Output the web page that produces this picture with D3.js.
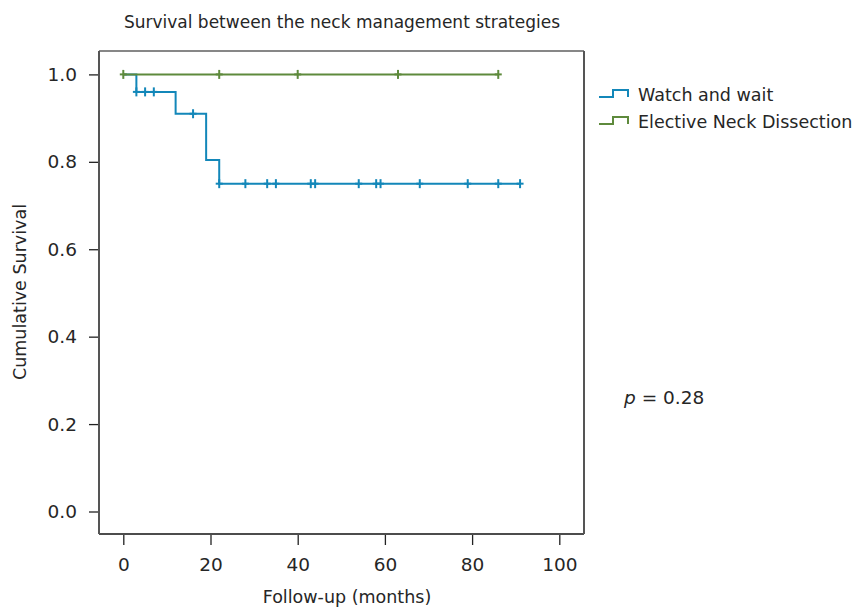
<!DOCTYPE html>
<html>
<head>
<meta charset="utf-8">
<script src="https://cdn.jsdelivr.net/npm/d3@7"></script>
<style>
  body { margin: 0; background: #fff; }
  svg text { font-family: "DejaVu Sans", sans-serif; fill: #262626; }
</style>
</head>
<body>
<svg id="viz" width="853" height="608"></svg>
<script>
// Series values
const xTicks = [0, 20, 40, 60, 80, 100];
const yTicks = [0, 0.2, 0.4, 0.6, 0.8, 1.0];

// Watch and wait: drop times and survival after each drop
const wwDropTimes = [3, 12, 19, 22];
const wwDropSurv = [0.96, 0.91, 0.804, 0.75];
const wwCensored = [3, 5, 7, 16, 22, 28, 33, 35, 43, 44, 54, 58, 59, 68, 79, 86, 91];
const wwLastTime = 91;

// Elective neck dissection: no events
const endDropTimes = [];
const endDropSurv = [];
const endCensored = [0, 22, 40, 63, 86];
const endLastTime = 86;

const seriesNames = ["Watch and wait", "Elective Neck Dissection"];
const seriesColors = ["#1387b9", "#5e8a3c"];

(function () {
  "use strict";

  /*
  |--------------------------------------------------------------------------
  | Layout settings
  |--------------------------------------------------------------------------
  */

  let frame = { left: 99, right: 584, top: 51, bottom: 534 };

  let svg = d3.select("#viz");

  /*
  |--------------------------------------------------------------------------
  | Scales
  |--------------------------------------------------------------------------
  */

  let x = d3.scaleLinear().domain([0, 100]).range([123.3, 559.3]);
  let y = d3.scaleLinear().domain([0, 1]).range([511.5, 74.4]);

  // builds the step points of one KM curve
  function stepPoints(times, surv, last) {
    let pts = [[0, 1]];
    let s = 1;
    times.forEach((t, i) => {
      pts.push([t, s]);
      s = surv[i];
      pts.push([t, s]);
    });
    pts.push([last, s]);
    return pts;
  }

  function survAt(times, surv, t) {
    let s = 1;
    times.forEach((d, i) => { if (d <= t) s = surv[i]; });
    return s;
  }

  let series = [
    { name: seriesNames[0], color: seriesColors[0], times: wwDropTimes, surv: wwDropSurv, cens: wwCensored, last: wwLastTime },
    { name: seriesNames[1], color: seriesColors[1], times: endDropTimes, surv: endDropSurv, cens: endCensored, last: endLastTime }
  ];

  /*
  |--------------------------------------------------------------------------
  | Frame and axes
  |--------------------------------------------------------------------------
  */

  let xAxis = svg.append("g")
    .attr("transform", `translate(0,${frame.bottom + 1})`)
    .call(d3.axisBottom(x).tickValues(xTicks).tickSize(10).tickPadding(13).tickFormat(d3.format("d")));

  let yAxis = svg.append("g")
    .attr("transform", `translate(${frame.left},0)`)
    .call(d3.axisLeft(y).tickValues(yTicks).tickSize(10).tickPadding(12).tickFormat(d3.format(".1f")));

  [xAxis, yAxis].forEach(a => {
    a.attr("font-family", null);
    a.select(".domain").remove();
    a.selectAll(".tick line").attr("stroke", "#222").attr("stroke-width", 1.3);
    a.selectAll(".tick text").style("font-size", "18.5px").attr("fill", "#262626");
  });

  svg.append("line").attr("x1", frame.left).attr("x2", frame.right).attr("y1", frame.top).attr("y2", frame.top)
    .attr("stroke", "#111").attr("stroke-width", 1.2);
  svg.append("line").attr("x1", frame.left).attr("x2", frame.right).attr("y1", frame.bottom).attr("y2", frame.bottom)
    .attr("stroke", "#111").attr("stroke-width", 1.5);
  svg.append("line").attr("x1", frame.left).attr("x2", frame.left).attr("y1", frame.top).attr("y2", frame.bottom)
    .attr("stroke", "#555").attr("stroke-width", 2);
  svg.append("line").attr("x1", frame.right).attr("x2", frame.right).attr("y1", frame.top).attr("y2", frame.bottom)
    .attr("stroke", "#555").attr("stroke-width", 2);

  /*
  |--------------------------------------------------------------------------
  | Curves and censor marks
  |--------------------------------------------------------------------------
  */

  let line = d3.line().x(d => x(d[0])).y(d => y(d[1]));

  series.forEach(s => {
    svg.append("path")
      .attr("d", line(stepPoints(s.times, s.surv, s.last)))
      .attr("fill", "none")
      .attr("stroke", s.color)
      .attr("stroke-width", 2);

    let marks = svg.append("g").selectAll("g")
      .data(s.cens)
      .enter()
      .append("g")
      .attr("transform", d => `translate(${x(d)},${y(survAt(s.times, s.surv, d))})`);

    marks.append("line").attr("x1", 0).attr("x2", 0).attr("y1", -4.5).attr("y2", 4.5)
      .attr("stroke", s.color).attr("stroke-width", 2);
    marks.append("line").attr("x1", -3.5).attr("x2", 3.5).attr("y1", 0).attr("y2", 0)
      .attr("stroke", s.color).attr("stroke-width", 2);
  });

  /*
  |--------------------------------------------------------------------------
  | Texts
  |--------------------------------------------------------------------------
  */

  svg.append("text")
    .attr("x", 342).attr("y", 28)
    .attr("text-anchor", "middle")
    .style("font-size", "17px")
    .text("Survival between the neck management strategies");

  svg.append("text")
    .attr("x", 347).attr("y", 603)
    .attr("text-anchor", "middle")
    .style("font-size", "17.5px")
    .text("Follow-up (months)");

  svg.append("text")
    .attr("transform", "translate(26,292) rotate(-90)")
    .attr("text-anchor", "middle")
    .style("font-size", "17.5px")
    .text("Cumulative Survival");

  let pText = svg.append("text")
    .attr("x", 624).attr("y", 404)
    .style("font-size", "18.5px");
  pText.append("tspan").style("font-style", "italic").text("p");
  pText.append("tspan").text(" = 0.28");

  /*
  |--------------------------------------------------------------------------
  | Legend
  |--------------------------------------------------------------------------
  */

  let legend = svg.append("g").selectAll("g")
    .data(series)
    .enter()
    .append("g")
    .attr("transform", (d, i) => `translate(599,${97 + i * 27})`);

  legend.append("path")
    .attr("d", "M0,0 H14 V-7 H29 V0")
    .attr("fill", "none")
    .attr("stroke", d => d.color)
    .attr("stroke-width", 2);

  legend.append("text")
    .attr("x", 39).attr("y", 4)
    .style("font-size", "17.5px")
    .text(d => d.name);
})();
</script>
</body>
</html>
